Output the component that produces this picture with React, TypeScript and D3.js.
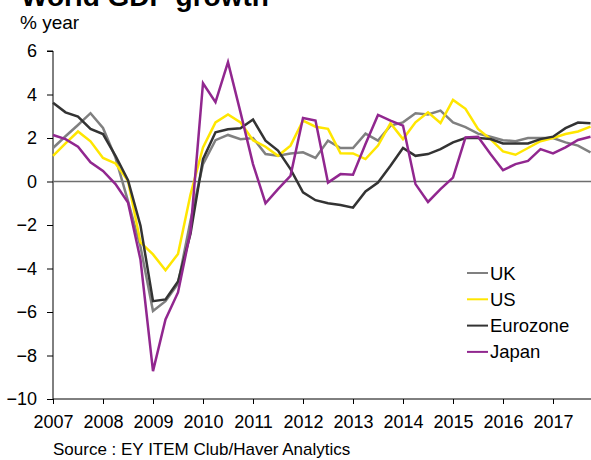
import React, { useEffect, useRef } from 'react'
import * as d3 from 'd3'

// quarterly, 2007 Q1 .. 2017 Q4
const startYear = 2007
const yearTicks = [2007, 2008, 2009, 2010, 2011, 2012, 2013, 2014, 2015, 2016, 2017]
const yTicks = [6, 4, 2, 0, -2, -4, -6, -8, -10]

const ukValues = [1.54, 2.08, 2.6, 3.14, 2.46, 1.1, -0.9, -3.0, -5.95, -5.5, -4.7, -1.8,
  0.8, 1.9, 2.14, 1.94, 2.0, 1.26, 1.18, 1.29, 1.34, 1.08, 1.88, 1.54,
  1.54, 2.2, 1.88, 2.57, 2.72, 3.14, 3.08, 3.26, 2.72, 2.5, 2.2, 2.06,
  1.9, 1.85, 2.0, 2.0, 2.0, 1.8, 1.65, 1.34]
const usValues = [1.18, 1.75, 2.3, 1.85, 1.08, 0.83, 0.03, -2.8, -3.35, -4.08, -3.33, -0.6,
  1.57, 2.72, 3.08, 2.72, 1.9, 1.6, 1.18, 1.65, 2.8, 2.52, 2.42, 1.3,
  1.29, 1.03, 1.65, 2.68, 1.95, 2.72, 3.18, 2.69, 3.75, 3.34, 2.42, 1.95,
  1.38, 1.23, 1.54, 1.85, 2.0, 2.18, 2.3, 2.52]
const euroValues = [3.62, 3.18, 2.98, 2.42, 2.18, 1.18, 0.06, -2.03, -5.5, -5.42, -4.6, -2.4,
  1.03, 2.26, 2.4, 2.45, 2.85, 1.88, 1.42, 0.57, -0.5, -0.86, -1.0, -1.08,
  -1.2, -0.46, -0.05, 0.72, 1.54, 1.18, 1.26, 1.49, 1.8, 2.0, 2.0, 1.95,
  1.75, 1.75, 1.75, 1.95, 2.06, 2.45, 2.71, 2.68]
const japanValues = [2.14, 1.95, 1.6, 0.88, 0.49, -0.12, -0.97, -3.6, -8.72, -6.34, -5.1, -2.3,
  4.52, 3.65, 5.49, 3.18, 0.8, -1.0, -0.35, 0.26, 2.92, 2.8, -0.05, 0.34,
  0.31, 1.72, 3.06, 2.8, 2.57, -0.12, -0.94, -0.35, 0.18, 2.03, 2.06, 1.26,
  0.52, 0.8, 0.95, 1.49, 1.29, 1.57, 1.91, 2.06]

const seriesNames = ['UK', 'US', 'Eurozone', 'Japan']
const seriesColors = ['#808080', '#FFE600', '#333333', '#91278F']

const FONT = 'Arial, "Liberation Sans", sans-serif'

const App = () => {
  const ref = useRef(null)

  useEffect(() => {
    const svg = d3.select(ref.current)
    svg.selectAll('*').remove()

    const left = 53, right = 590.5, top = 51, bottom = 399
    const xScale = d3.scaleLinear().domain([2007, 2017.75]).range([left, right])
    const yScale = d3.scaleLinear().domain([-10, 6]).range([bottom, top])

    // title (cut off at the top like the original)
    svg.append('text')
      .attr('x', 21).attr('y', 6)
      .attr('font-family', FONT).attr('font-size', 28).attr('font-weight', 'bold')
      .text('World GDP growth')

    svg.append('text')
      .attr('x', 20).attr('y', 29)
      .attr('font-family', FONT).attr('font-size', 19)
      .text('% year')

    // y axis
    const yAxis = d3.axisLeft(yScale).tickValues(yTicks).tickSize(6).tickPadding(10)
    const yAxisG = svg.append('g').attr('transform', `translate(${left},0)`).call(yAxis)
    yAxisG.selectAll('text').attr('font-family', FONT).attr('font-size', 18).attr('fill', '#000')
    yAxisG.selectAll('line,path').attr('stroke', '#000')
    yAxisG.select('.domain').attr('d', `M-6,${top}H0V${bottom}`)

    // x axis
    const xAxis = d3.axisBottom(xScale).tickValues(yearTicks).tickFormat(d3.format('d')).tickSize(5).tickPadding(11)
    const xAxisG = svg.append('g').attr('transform', `translate(0,${bottom})`).call(xAxis)
    xAxisG.selectAll('text').attr('font-family', FONT).attr('font-size', 18).attr('fill', '#000')
    xAxisG.selectAll('line,path').attr('stroke', '#000')
    xAxisG.select('.domain').attr('d', `M${left},0H591`)

    // zero line
    svg.append('line')
      .attr('x1', left).attr('x2', 591)
      .attr('y1', yScale(0)).attr('y2', yScale(0))
      .attr('stroke', '#6e6e6e').attr('stroke-width', 1.5)

    const allSeries = [ukValues, usValues, euroValues, japanValues]
    const line = d3.line<number>()
      .x((d, i) => xScale(startYear + i / 4))
      .y(d => yScale(d))

    allSeries.forEach((vals, k) => {
      svg.append('path')
        .datum(vals)
        .attr('d', line)
        .attr('fill', 'none')
        .attr('stroke', seriesColors[k])
        .attr('stroke-width', 2.5)
        .attr('stroke-linejoin', 'miter')
    })

    // legend
    const legend = svg.append('g').attr('transform', 'translate(467,273)')
    seriesNames.forEach((name, k) => {
      const g = legend.append('g').attr('transform', `translate(0,${k * 26.3})`)
      g.append('line').attr('x1', 0).attr('x2', 21).attr('y1', 0).attr('y2', 0)
        .attr('stroke', seriesColors[k]).attr('stroke-width', 2)
      g.append('text').attr('x', 23).attr('y', 6.5)
        .attr('font-family', FONT).attr('font-size', 18.5)
        .text(name)
    })

    svg.append('text')
      .attr('x', 53).attr('y', 455)
      .attr('font-family', FONT).attr('font-size', 17)
      .text('Source : EY ITEM Club/Haver Analytics')
  }, [])

  return (
    <svg ref={ref} width={591} height={460}
      style={{ position: 'absolute', left: 0, top: 0, background: '#fff' }} />
  )
}

export default App
